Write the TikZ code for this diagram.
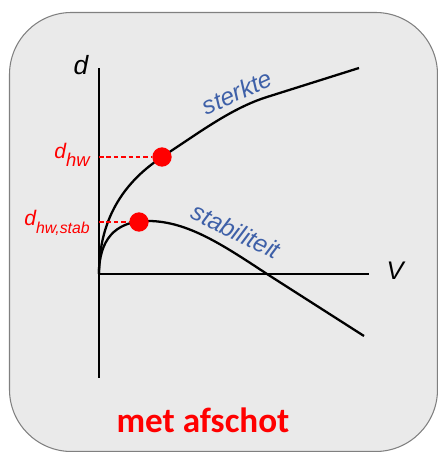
\documentclass[tikz,border=0pt]{standalone}
\usepackage{fontspec}
\setmainfont{Liberation Sans}
\newfontfamily\calibri{Carlito}
\definecolor{panel}{RGB}{234,234,234}
\definecolor{rim}{RGB}{128,128,128}
\definecolor{curvelab}{RGB}{62,96,168}
\definecolor{hwred}{RGB}{255,0,0}
\newcommand{\fs}[1]{\fontsize{#1}{#1}\selectfont}
\begin{document}
\begin{tikzpicture}[x=0.02cm, y=-0.02cm,
		axis/.style={line width=1.7pt, line cap=rect},
		curve/.style={line width=1.3pt},
		pt/.style={circle, fill=hwred, inner sep=0pt, minimum size=11pt},
		guide/.style={hwred, line width=0.9pt, dash pattern=on 2.6pt off 1.6pt},
		hwlab/.style={hwred, inner sep=0pt, anchor=east, font=\itshape},
		clab/.style={curvelab, inner sep=0pt, font=\itshape\fs{14}}]
	\useasboundingbox (0,0) rectangle (438,452);
	% achtergrondpaneel
	\draw[rim, fill=panel, line width=0.6pt, rounded corners=1.24cm] (9.5,12.5) rectangle (437.5,451.5);
	% assen
	\coordinate (O)    at (99,274);
	\coordinate (ytop) at (99,69);
	\coordinate (ybot) at (99,377);
	\coordinate (xend) at (367,274);
	\draw[axis] (ybot) -- (ytop);
	\draw[axis] (O) -- (xend);
	\node[font=\itshape\fs{15}, inner sep=0pt] (dlab) at (81,65) {d};
	\node[font=\itshape\fs{14.5}, inner sep=0pt] (vlab) at (395,271) {V};
	% sterkte en stabiliteit
	\coordinate (phw)   at (162,157);
	\coordinate (pstab) at (139,222);
	\coordinate (cross) at (267,274);
	\draw[curve] (O) .. controls (99,208) and (135,175) .. (phw)
		.. controls (200,132) and (232,108) .. (267,97) -- (359,68);
	\draw[curve] (O) .. controls (99,240) and (115,222) .. (145,221)
		.. controls (185,220) and (220,243) .. (cross) -- (364,336);
	\node[clab, rotate=24]  (sterkte) at (237,92) {sterkte};
	\node[clab, rotate=-26] (stabil)  at (236,231) {stabiliteit};
	% hulplijnen naar de d-as
	\coordinate (yhw)   at (99,157);
	\coordinate (ystab) at (99,222);
	\node[pt] (hw)   at (phw) {};
	\node[pt] (stab) at (pstab) {};
	\draw[guide] (yhw) -- (hw);
	\draw[guide] (ystab) -- (stab);
	\node[hwlab] (dhw)   at (90,155) {\fs{12}d\raisebox{-0.35em}{\fs{10.5}hw}};
	\node[hwlab] (dstab) at (90,223) {\fs{12}d\raisebox{-0.35em}{\fs{9}hw,stab}};
	\node[hwred, font=\calibri\bfseries\fs{20}] (titel) at (203,420) {met afschot};
\end{tikzpicture}
\end{document}
